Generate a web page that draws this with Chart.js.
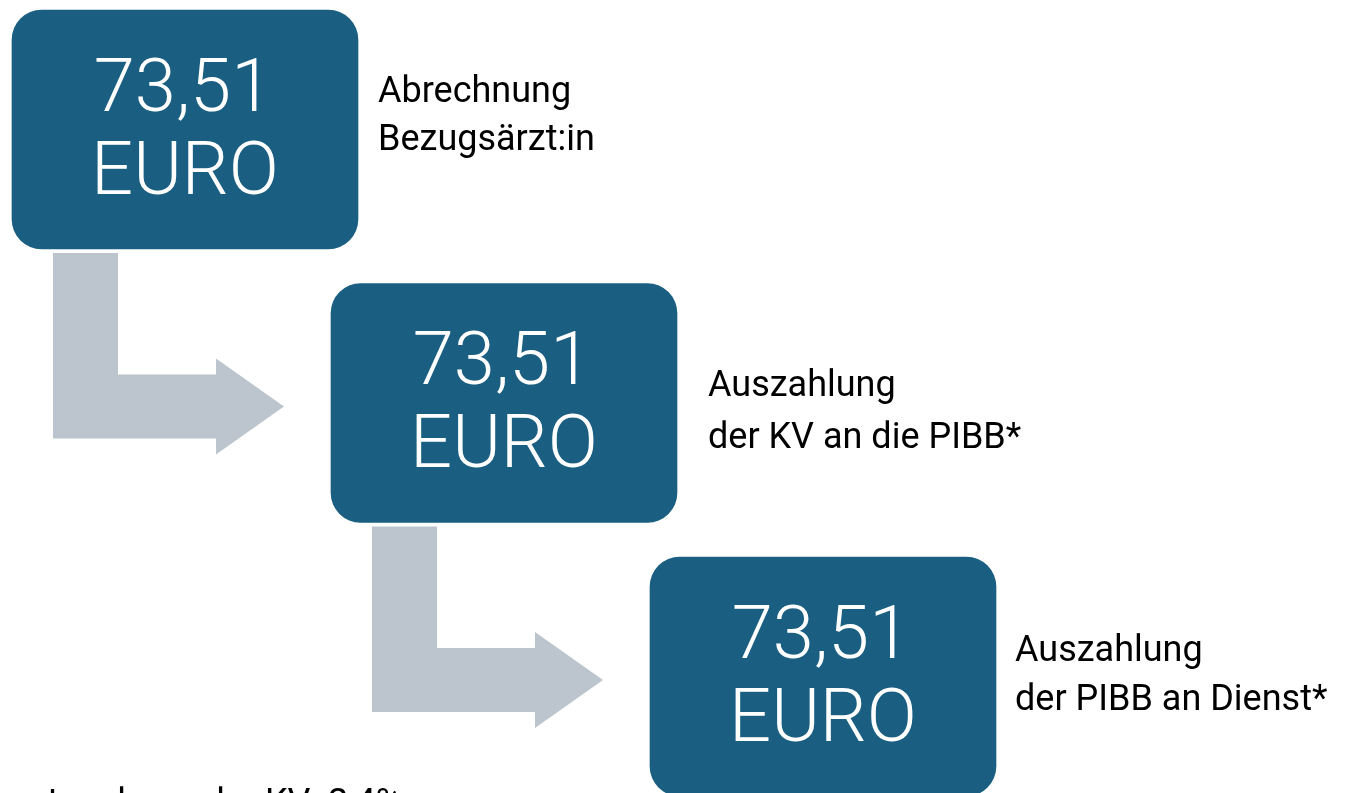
<!DOCTYPE html>
<html>
<head>
<meta charset="utf-8">
<script src="https://cdn.jsdelivr.net/npm/chart.js@4"></script>
<style>
  body { margin: 0; background: #fff; }
  canvas { display: block; }
</style>
</head>
<body>
<canvas id="mycanvas" width="1352" height="793"></canvas>
<script>
var steps = ['Abrechnung', 'Auszahlung KV', 'Auszahlung PIBB'];
var amounts = ['73,51', '73,51', '73,51'];
var unit = 'EURO';
var captions = [
	['Abrechnung', 'Bezugsärzt:in'],
	['Auszahlung', 'der KV an die PIBB*'],
	['Auszahlung', 'der PIBB an Dienst*']
];
var footnote = '*Verwaltungskostenabzug der KV: 2,4%';

var boxColor = '#1A5F81';
var arrowColor = '#BCC5CE';

// each step sits one unit lower on the (reversed) y axis
var spans = steps.map(function(s, i) { return [i, i + 0.874]; });

function boxOf(el) {
	var top = Math.min(el.y, el.base), bottom = Math.max(el.y, el.base);
	return { left: el.x - el.width / 2, right: el.x + el.width / 2, top: top, bottom: bottom, cx: el.x };
}

var arrows = {
	id: 'arrows',
	beforeDatasetsDraw: function(chart) {
		var ctx = chart.ctx;
		var els = chart.getDatasetMeta(0).data;
		ctx.save();
		ctx.fillStyle = arrowColor;
		for (var i = 0; i < els.length - 1; i++) {
			var a = boxOf(els[i]), b = boxOf(els[i + 1]);
			var sl = a.left + 41, sw = 65, st = a.bottom + 4;
			var hb = b.top + 155, ht = hb - 64;
			var headX = b.left - 115, tipX = b.left - 47;
			ctx.beginPath();
			ctx.moveTo(sl, st);
			ctx.lineTo(sl + sw, st);
			ctx.lineTo(sl + sw, ht);
			ctx.lineTo(headX, ht);
			ctx.lineTo(headX, ht - 16);
			ctx.lineTo(tipX, (ht + hb) / 2);
			ctx.lineTo(headX, hb + 16);
			ctx.lineTo(headX, hb);
			ctx.lineTo(sl, hb);
			ctx.closePath();
			ctx.fill();
		}
		ctx.restore();
	}
};

var labels = {
	id: 'labels',
	afterDatasetsDraw: function(chart) {
		var ctx = chart.ctx;
		var els = chart.getDatasetMeta(0).data;
		var capDx = [20, 31, 19];
		var capDy = [92, 113, 104];
		var capGap = [48, 52, 49];
		ctx.save();
		els.forEach(function(el, i) {
			var b = boxOf(el);
			ctx.fillStyle = '#fff';
			ctx.textAlign = 'center';
			ctx.textBaseline = 'alphabetic';
			ctx.font = '300 74px Roboto';
			ctx.fillText(amounts[i], b.cx - 2, b.top + 101);
			ctx.fillText(unit, b.cx, b.top + 184);

			ctx.fillStyle = '#000';
			ctx.textAlign = 'left';
			ctx.font = '36px Roboto';
			ctx.fillText(captions[i][0], b.right + capDx[i], b.top + capDy[i]);
			ctx.fillText(captions[i][1], b.right + capDx[i], b.top + capDy[i] + capGap[i]);
		});
		ctx.fillStyle = '#000';
		ctx.textAlign = 'right';
		ctx.font = '36px Roboto';
		ctx.fillText(footnote, 402, 814);
		ctx.restore();
	}
};

var ctx = document.getElementById('mycanvas');

var flow = new Chart(ctx, {
	type: 'bar',
	data: {
		labels: steps,
		datasets: [
			{
				label: 'Betrag',
				data: spans,
				backgroundColor: boxColor,
				borderWidth: 0,
				borderRadius: 30,
				borderSkipped: false,
				barThickness: 346,
				clip: false
			}
		]
	},
	options: {
		responsive: false,
		animation: false,
		layout: { padding: { left: 25.5, right: 369.5, top: 0, bottom: 0 } },
		plugins: { legend: { display: false }, tooltip: { enabled: false } },
		scales: {
			x: { display: false },
			y: { display: false, reverse: true, min: -0.0366, max: 2.863 }
		}
	},
	plugins: [arrows, labels]
});
</script>
</body>
</html>
